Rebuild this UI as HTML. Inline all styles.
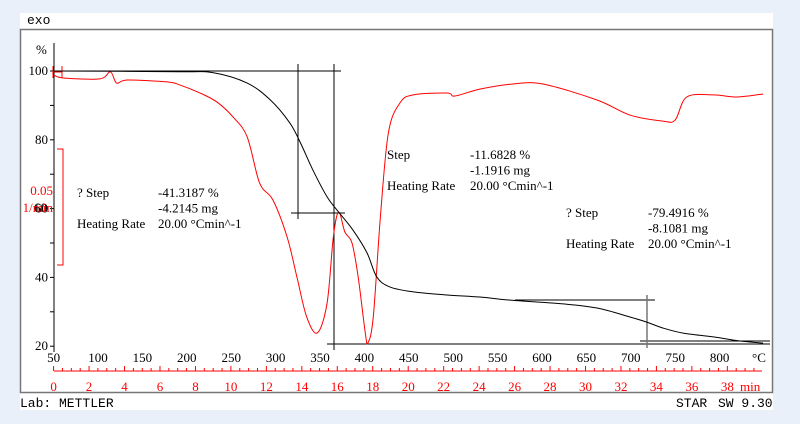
<!DOCTYPE html>
<html><head><meta charset="utf-8"><style>
body{margin:0;background:#eaf0f9;width:800px;height:424px;overflow:hidden;font-family:"Liberation Serif",serif}
svg{position:absolute;left:0;top:0}
</style></head><body>
<svg width="800" height="424" id="c"></svg>
<script>
const tempTicks=[50,100,150,200,250,300,350,400,450,500,550,600,650,700,750,800];
const yTicks=[20,40,60,80,100];
const minTicks=[0,2,4,6,8,10,12,14,16,18,20,22,24,26,28,30,32,34,36,38];
const tgaT=[50,192,230,268,294,316,328,342,358,369,387,403,414,429,455,493,530,564,624,662,699,718,736,759,793,823,849];
const tgaP=[100,99.8,99.5,96.5,91.6,84.9,79.1,71.2,63.4,59.6,53.8,47.1,40.1,37.2,35.8,34.9,34.3,33.4,32.3,31.1,28.5,27,25.3,23.8,22.7,21.5,20.9];
const dtgT=[50,61,102,114,121,133,178,192,215,234,252,268,282,297,313,324,335,347,358,365,371,378,386,393,401,404,410,418,427,440,455,493,502,530,567,601,662,699,736,750,763,793,820,849];
const dtgV=[-0.0017,-0.003,-0.0034,-0.0004,-0.0052,-0.0039,-0.0047,-0.006,-0.0095,-0.0134,-0.0198,-0.0284,-0.0483,-0.0556,-0.0716,-0.0888,-0.106,-0.1129,-0.1,-0.0716,-0.0608,-0.0694,-0.0741,-0.0888,-0.1129,-0.1172,-0.106,-0.0629,-0.0267,-0.0138,-0.0103,-0.0095,-0.0108,-0.0078,-0.0056,-0.0056,-0.0125,-0.019,-0.0216,-0.0211,-0.0112,-0.0103,-0.0112,-0.0099];
const X=t=>53.6+(t-50)*0.888;
const Y=p=>71+(100-p)*3.44;
const YD=d=>71-d/0.05*116;
const M=m=>53.6+m*17.73;
const NS='http://www.w3.org/2000/svg';
const svg=document.getElementById('c');
function el(tag,attrs,txt){const e=document.createElementNS(NS,tag);for(const k in attrs)e.setAttribute(k,attrs[k]);if(txt!==undefined)e.textContent=txt;svg.appendChild(e);return e;}
function smooth(p){let d='M'+p[0][0]+' '+p[0][1];for(let i=0;i<p.length-1;i++){const a=p[Math.max(0,i-1)],b=p[i],c=p[i+1],n=p[Math.min(p.length-1,i+2)];
d+=' C'+(b[0]+(c[0]-a[0])/6)+' '+(b[1]+(c[1]-a[1])/6)+' '+(c[0]-(n[0]-b[0])/6)+' '+(c[1]-(n[1]-b[1])/6)+' '+c[0]+' '+c[1];}return d;}
let e;
e=el('rect',{x:20,y:13,width:753,height:397,fill:'#fff'});


e=el('rect',{x:20.5,y:29.5,width:752,height:363,fill:'none',stroke:'#777','stroke-width':1.5});


e=el('text',{x:27,y:24,'font-size':13,'font-family':'Liberation Mono,monospace'},'exo');


e=el('text',{x:36,y:54,'font-size':13},'%');


e=el('line',{x1:54,y1:43,x2:54,y2:352,stroke:'#000'});


for(let v=20;v<=100;v+=10){el('line',{x1:50,y1:Y(v),x2:54,y2:Y(v),stroke:'#000'});}
yTicks.forEach(v=>{const t=el('text',{x:48,y:Y(v)+4,'font-size':13,'text-anchor':'end'},String(v));

});
tempTicks.forEach(v=>{const t=el('text',{x:X(v),y:362,'font-size':13,'text-anchor':'middle'},String(v));

});
e=el('text',{x:752,y:362,'font-size':13},'°C');


e=el('line',{x1:54,y1:371,x2:762,y2:371,stroke:'#f00'});


for(let m=0;m<=39.5;m+=0.5){el('line',{x1:M(m),y1:m%2==0?366:368,x2:M(m),y2:371,stroke:'#f00'});}
minTicks.forEach(v=>{const t=el('text',{x:M(v),y:391,'font-size':13,fill:'#f00','text-anchor':'middle'},String(v));

});
e=el('text',{x:740,y:391,'font-size':13,fill:'#f00'},'min');


e=el('path',{d:'M57 149H63V265H57',fill:'none',stroke:'#f00'});


e=el('path',{d:'M53 66V78M53 72H62M62 66V78',fill:'none',stroke:'#f00'});
e=el('text',{x:53,y:195,'font-size':13,fill:'#f00','text-anchor':'end'},'0.05');


e=el('text',{x:34,y:212,'font-size':13},'60');
e=el('text',{x:53,y:212,'font-size':13,fill:'#f00','text-anchor':'end'},'1/min');


const lines=[[55,71,341,71],[298,64,298,219],[334,64,334,350],[291,213,345,213],[327,344,770,344],[515,300,655,300],[640,341,770,341]];
lines.forEach(a=>{const l=el('line',{x1:a[0],y1:a[1],x2:a[2],y2:a[3],stroke:'#000'});

});
e=el('line',{x1:647,y1:295,x2:647,y2:348,stroke:'#777','stroke-width':1.5});


e=el('path',{d:smooth(dtgT.map((t,i)=>[X(t),YD(dtgV[i])])),fill:'none',stroke:'#f00','stroke-width':1});


e=el('path',{d:smooth(tgaT.map((t,i)=>[X(t),Y(tgaP[i])])),fill:'none',stroke:'#000','stroke-width':1});


function block(name,x1,x2,y,lab,v1,v2){
 const t=[[x1,y,lab],[x2,y,v1],[x2,y+15.5,v2],[x1,y+31,'Heating Rate'],[x2,y+31,'20.00 °Cmin^-1']];
 t.forEach(a=>{const q=el('text',{x:a[0],y:a[1],'font-size':13},a[2]);
 
 });
}
block('step-annotation-1',77,158,197,'? Step','-41.3187 %','-4.2145 mg');
block('step-annotation-2',387,470,159,'Step','-11.6828 %','-1.1916 mg');
block('step-annotation-3',566,648,217,'? Step','-79.4916 %','-8.1081 mg');
e=el('text',{x:20,y:407,'font-size':13,'font-family':'Liberation Mono,monospace'},'Lab: METTLER');


e=el('text',{x:676,y:407,'font-size':13,'font-family':'Liberation Mono,monospace'},'STAR');


e=el('text',{x:718,y:407,'font-size':13,'font-family':'Liberation Mono,monospace'},'SW 9.30');


</script>
</body></html>
